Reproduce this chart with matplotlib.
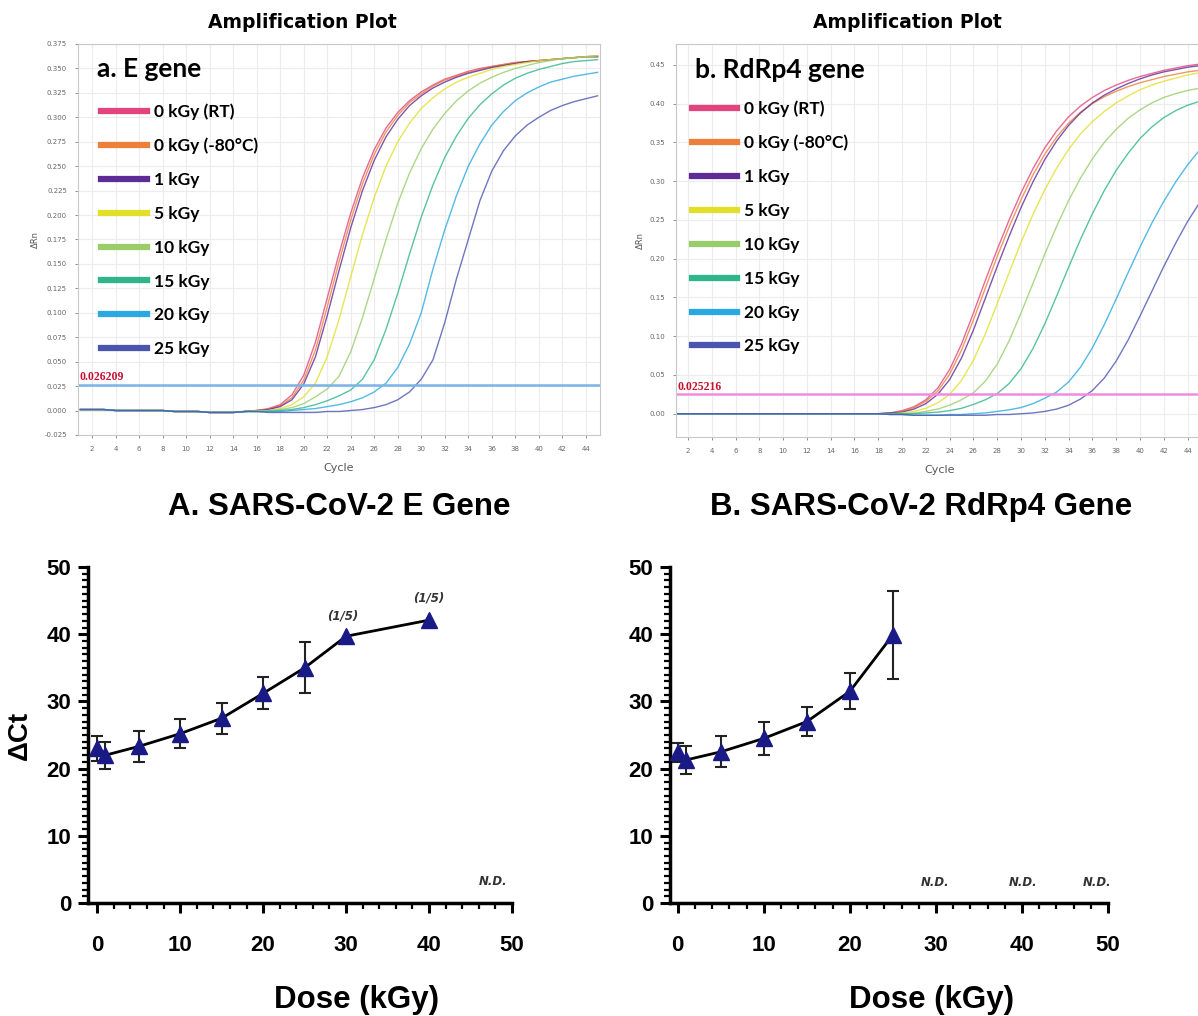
import matplotlib.pyplot as plt
from matplotlib.lines import Line2D
from matplotlib.ticker import MultipleLocator
import numpy as np

# amplification curves, delta Rn per cycle
cycles = np.arange(1, 46)

labels = ["0 kGy (RT)", "0 kGy (-80°C)", "1 kGy", "5 kGy", "10 kGy", "15 kGy", "20 kGy", "25 kGy"]
colors = ["#e3447c", "#ec7f3a", "#5e2c98", "#e2df2a", "#98cd6a", "#2fb58a", "#2aa8e0", "#4a55b0"]

e_rt = [0.001, 0.001, 0.001, 0.000, 0.000, 0.000, 0.000, 0.000, -0.001, -0.001, -0.001, -0.002, -0.002, -0.002, -0.001,
        0.000, 0.002, 0.006, 0.016, 0.036, 0.070, 0.115, 0.160, 0.202, 0.238, 0.267, 0.289, 0.305, 0.317, 0.326,
        0.333, 0.339, 0.343, 0.347, 0.350, 0.352, 0.354, 0.356, 0.357, 0.358, 0.359, 0.360, 0.361, 0.362, 0.362]
e_m80 = [0.001, 0.001, 0.001, 0.000, 0.000, 0.000, 0.000, 0.000, -0.001, -0.001, -0.001, -0.002, -0.002, -0.002, -0.001,
         0.000, 0.001, 0.005, 0.013, 0.031, 0.062, 0.106, 0.152, 0.195, 0.232, 0.262, 0.285, 0.302, 0.315, 0.324,
         0.332, 0.338, 0.342, 0.346, 0.349, 0.352, 0.354, 0.356, 0.357, 0.358, 0.359, 0.360, 0.361, 0.362, 0.363]
e_1 = [0.001, 0.001, 0.001, 0.000, 0.000, 0.000, 0.000, 0.000, -0.001, -0.001, -0.001, -0.002, -0.002, -0.002, -0.001,
       0.000, 0.001, 0.004, 0.011, 0.027, 0.055, 0.097, 0.143, 0.187, 0.225, 0.256, 0.280, 0.298, 0.312, 0.322,
       0.330, 0.336, 0.341, 0.345, 0.348, 0.351, 0.353, 0.355, 0.357, 0.358, 0.359, 0.360, 0.361, 0.362, 0.362]
e_5 = [0.001, 0.001, 0.001, 0.000, 0.000, 0.000, 0.000, 0.000, -0.001, -0.001, -0.001, -0.002, -0.002, -0.002, -0.001,
       0.000, 0.000, 0.002, 0.006, 0.014, 0.028, 0.055, 0.093, 0.137, 0.180, 0.218, 0.250, 0.275, 0.294, 0.309,
       0.320, 0.329, 0.336, 0.341, 0.345, 0.349, 0.352, 0.354, 0.356, 0.358, 0.359, 0.360, 0.361, 0.362, 0.363]
e_10 = [0.001, 0.001, 0.001, 0.000, 0.000, 0.000, 0.000, 0.000, -0.001, -0.001, -0.001, -0.002, -0.002, -0.002, -0.001,
        -0.001, 0.000, 0.001, 0.003, 0.007, 0.014, 0.022, 0.035, 0.060, 0.095, 0.135, 0.175, 0.212, 0.243, 0.268,
        0.288, 0.304, 0.317, 0.327, 0.335, 0.341, 0.346, 0.350, 0.353, 0.356, 0.358, 0.360, 0.361, 0.362, 0.363]
e_15 = [0.001, 0.001, 0.001, 0.000, 0.000, 0.000, 0.000, 0.000, -0.001, -0.001, -0.001, -0.002, -0.002, -0.002, -0.001,
        -0.001, -0.001, 0.000, 0.001, 0.003, 0.006, 0.010, 0.015, 0.021, 0.032, 0.052, 0.083, 0.120, 0.160, 0.198,
        0.231, 0.259, 0.281, 0.299, 0.313, 0.324, 0.333, 0.340, 0.345, 0.349, 0.352, 0.355, 0.357, 0.358, 0.359]
e_20 = [0.001, 0.001, 0.001, 0.000, 0.000, 0.000, 0.000, 0.000, -0.001, -0.001, -0.001, -0.002, -0.002, -0.002, -0.001,
        -0.001, -0.001, -0.001, 0.000, 0.001, 0.002, 0.004, 0.006, 0.009, 0.013, 0.019, 0.028, 0.044, 0.068, 0.100,
        0.145, 0.185, 0.220, 0.250, 0.273, 0.292, 0.306, 0.317, 0.325, 0.331, 0.336, 0.339, 0.342, 0.344, 0.346]
e_25 = [0.001, 0.001, 0.001, 0.000, 0.000, 0.000, 0.000, 0.000, -0.001, -0.001, -0.001, -0.002, -0.002, -0.002, -0.001,
        -0.001, -0.002, -0.002, -0.002, -0.002, -0.002, -0.001, -0.001, 0.000, 0.001, 0.003, 0.006, 0.011, 0.019, 0.032,
        0.052, 0.090, 0.135, 0.175, 0.215, 0.245, 0.266, 0.281, 0.292, 0.300, 0.307, 0.312, 0.316, 0.319, 0.322]

r_rt = [0.000] * 18 + [0.001, 0.004, 0.009, 0.018, 0.033, 0.057, 0.090, 0.130, 0.172, 0.212, 0.250, 0.285, 0.316, 0.343,
                       0.365, 0.383, 0.397, 0.408, 0.417, 0.424, 0.430, 0.435, 0.439, 0.443, 0.446, 0.449, 0.451]
r_m80 = [0.000] * 18 + [0.001, 0.003, 0.008, 0.016, 0.029, 0.051, 0.082, 0.121, 0.162, 0.203, 0.241, 0.276, 0.308, 0.335,
                        0.357, 0.375, 0.389, 0.400, 0.409, 0.416, 0.422, 0.427, 0.431, 0.435, 0.438, 0.441, 0.443]
r_1 = [0.000] * 18 + [0.001, 0.002, 0.006, 0.013, 0.025, 0.044, 0.072, 0.108, 0.149, 0.190, 0.229, 0.266, 0.299, 0.328,
                      0.352, 0.372, 0.388, 0.401, 0.411, 0.419, 0.426, 0.432, 0.437, 0.441, 0.444, 0.447, 0.449]
r_5 = [0.000] * 18 + [0.000, 0.001, 0.003, 0.007, 0.014, 0.025, 0.043, 0.069, 0.103, 0.142, 0.182, 0.221, 0.257, 0.289,
                      0.317, 0.341, 0.361, 0.377, 0.390, 0.401, 0.410, 0.418, 0.424, 0.429, 0.433, 0.437, 0.440]
r_10 = [0.000] * 18 + [0.000, 0.000, 0.001, 0.003, 0.006, 0.011, 0.018, 0.027, 0.042, 0.064, 0.094, 0.130, 0.168, 0.206,
                       0.242, 0.275, 0.304, 0.329, 0.350, 0.367, 0.381, 0.392, 0.401, 0.408, 0.413, 0.417, 0.420]
r_15 = [0.000] * 18 + [0.000, 0.000, 0.000, 0.001, 0.002, 0.004, 0.007, 0.012, 0.018, 0.026, 0.039, 0.058, 0.084, 0.116,
                       0.152, 0.189, 0.225, 0.258, 0.288, 0.314, 0.336, 0.355, 0.370, 0.382, 0.391, 0.398, 0.403]
r_20 = [0.000] * 18 + [-0.001, -0.001, -0.002, -0.002, -0.002, -0.001, -0.001, 0.000, 0.001, 0.003, 0.005, 0.008, 0.013,
                       0.020, 0.028, 0.041, 0.060, 0.085, 0.115, 0.148, 0.182, 0.215, 0.246, 0.274, 0.299, 0.321, 0.340]
r_25 = [0.000] * 18 + [-0.001, -0.001, -0.002, -0.002, -0.002, -0.002, -0.002, -0.002, -0.002, -0.001, -0.001, 0.000,
                       0.001, 0.003, 0.006, 0.011, 0.019, 0.030, 0.046, 0.068, 0.095, 0.126, 0.158, 0.190, 0.220, 0.248, 0.272]

e_curves = [e_rt, e_m80, e_1, e_5, e_10, e_15, e_20, e_25]
r_curves = [r_rt, r_m80, r_1, r_5, r_10, r_15, r_20, r_25]
e_threshold = 0.026209
r_threshold = 0.025216

# delta Ct vs dose
dose_e = [0, 1, 5, 10, 15, 20, 25, 30, 40]
dct_e = [23.0, 22.0, 23.3, 25.2, 27.5, 31.2, 35.0, 39.7, 42.1]
err_e = [1.8, 2.0, 2.3, 2.2, 2.3, 2.4, 3.8, 0, 0]
dose_r = [0, 1, 5, 10, 15, 20, 25]
dct_r = [22.4, 21.3, 22.5, 24.5, 27.0, 31.5, 39.9]
err_r = [1.4, 2.1, 2.3, 2.4, 2.2, 2.7, 6.6]

fig = plt.figure(figsize=(11.98, 10.16), dpi=100)

def amp_panel(rect, curves, thr, thr_color, yticks, ylim, xlim, tag, leg_x, leg_y):
    ax = fig.add_axes(rect)
    for c, col in zip(curves, colors):
        ax.plot(cycles, c, color=col, lw=1.0, alpha=0.8)
    ax.axhline(thr, color=thr_color, lw=1.8)
    ax.text(xlim[0] + 0.1, thr + 0.002, f"{thr:.6f}", color="#c8102e", fontsize=8.5,
            family="Liberation Serif", fontweight="bold", va="bottom")
    ax.set_xlim(xlim)
    ax.set_ylim(ylim)
    ax.set_xticks(range(2, 46, 2))
    ax.set_yticks(yticks)
    ax.grid(True, color="#ececec", lw=0.8)
    ax.tick_params(labelsize=5, colors="#666666", length=2, width=0.5, pad=6)
    for s in ax.spines.values():
        s.set_color("#c8c8c8")
    ax.set_xlabel("Cycle", fontsize=8, color="#555555", labelpad=8)
    ax.set_ylabel("ΔRn", fontsize=6, color="#555555", labelpad=3)
    ax.text(0.036, 0.935, tag, transform=ax.transAxes, fontsize=19, fontweight="bold",
            family="Lato", va="center")
    handles = [Line2D([], [], color=col, lw=4.5) for col in colors]
    ax.legend(handles, labels, loc="upper left", bbox_to_anchor=(leg_x, leg_y), frameon=False,
              prop={"family": "Lato", "weight": "bold", "size": 12.5}, handlelength=2.6,
              handletextpad=0.4, labelspacing=1.03, borderpad=0, borderaxespad=0)
    return ax

ax1 = amp_panel([0.0651, 0.5719, 0.4357, 0.3848], e_curves, e_threshold, "#7ab3e6",
                [-0.025 + 0.025 * i for i in range(17)], (-0.025, 0.375), (0.8, 45.2), "a. E gene",
                0.045, 0.849)
ax1.yaxis.set_major_formatter(plt.FormatStrFormatter("%.3f"))
ax2 = amp_panel([0.5643, 0.5699, 0.4399, 0.3868], r_curves, r_threshold, "#f08ce0",
                [0.0, 0.05, 0.10, 0.15, 0.20, 0.25, 0.30, 0.35, 0.40, 0.45], (-0.03, 0.477), (1.0, 45.3),
                "b. RdRp4 gene", 0.0295, 0.857)
ax2.yaxis.set_major_formatter(plt.FormatStrFormatter("%.2f"))

for x in (0.2528, 0.7575):
    fig.text(x, 0.978, "Amplification Plot", ha="center", va="center", fontsize=13.5, fontweight="bold",
             family=["Liberation Sans Narrow", "DejaVu Sans"])

def dct_panel(rect, dose, dct, err, xlim, title, title_x, xlab_x, ylab):
    ax = fig.add_axes(rect)
    ax.plot(dose, dct, color="black", lw=2, zorder=2)
    n = sum(1 for e in err if e > 0)
    ax.errorbar(dose[:n], dct[:n], yerr=err[:n], fmt="none", ecolor="#222222", elinewidth=1.5,
                capsize=4, capthick=1.5, zorder=3)
    ax.plot(dose, dct, "^", color="#1a1a86", ms=12, zorder=4)
    ax.set_xlim(xlim)
    ax.set_ylim(0, 50)
    ax.set_xticks(range(0, 51, 10))
    ax.set_yticks(range(0, 51, 10))
    ax.xaxis.set_minor_locator(MultipleLocator(2))
    ax.yaxis.set_minor_locator(MultipleLocator(1))
    for s in ("top", "right"):
        ax.spines[s].set_visible(False)
    for s in ("left", "bottom"):
        ax.spines[s].set_linewidth(2.5)
    ax.tick_params(which="major", length=7, width=2.2, labelsize=16)
    ax.tick_params(axis="x", which="major", pad=16)
    ax.tick_params(axis="y", which="major", pad=5)
    ax.tick_params(which="minor", length=4, width=1.6)
    for lab in ax.get_xticklabels() + ax.get_yticklabels():
        lab.set_fontweight("bold")
        lab.set_family("Liberation Sans")
    ax.set_xlabel("Dose (kGy)", fontsize=22.5, fontweight="bold", family="Liberation Sans")
    ax.xaxis.set_label_coords(xlab_x, -0.245)
    if ylab:
        ax.set_ylabel(ylab, fontsize=20, fontweight="bold", family="Liberation Sans", labelpad=10)
    ax.text(title_x, 1.18, title, transform=ax.transAxes, ha="center", va="center",
            fontsize=22.5, fontweight="bold", family="Liberation Sans")
    return ax

ax3 = dct_panel([0.0735, 0.1112, 0.3539, 0.3307], dose_e, dct_e, err_e, (-1.1, 50),
                "A. SARS-CoV-2 E Gene", 0.592, 0.634, "ΔCt")
ax3.text(29.6, 42.2, "(1/5)", fontsize=8.5, style="italic", fontweight="bold", ha="center", color="#333333")
ax3.text(39.9, 44.9, "(1/5)", fontsize=8.5, style="italic", fontweight="bold", ha="center", color="#333333")
ax3.text(47.7, 2.7, "N.D.", fontsize=8.5, style="italic", fontweight="bold", ha="center", color="#333333")

ax4 = dct_panel([0.5593, 0.1112, 0.3656, 0.3307], dose_r, dct_r, err_r, (-0.9, 50),
                "B. SARS-CoV-2 RdRp4 Gene", 0.573, 0.596, None)
for x in (29.9, 40.1, 48.7):
    ax4.text(x, 2.6, "N.D.", fontsize=8.5, style="italic", fontweight="bold", ha="center", color="#333333")

fig.savefig("out.png", dpi=100)
